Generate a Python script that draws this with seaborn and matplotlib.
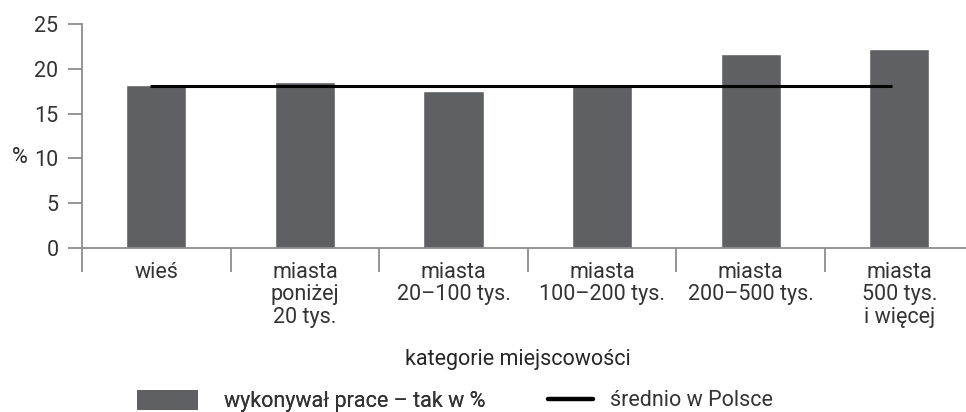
"""
Bar chart: share of people who did the work, by settlement category,
with the national average drawn as a horizontal line.
"""
import matplotlib
matplotlib.use("Agg")
import matplotlib.pyplot as plt
import pandas as pd
import seaborn as sns
from matplotlib.lines import Line2D
from matplotlib.patches import Patch

categories = [
    "wieś",
    "miasta\nponiżej\n20 tys.",
    "miasta\n20–100 tys.",
    "miasta\n100–200 tys.",
    "miasta\n200–500 tys.",
    "miasta\n500 tys.\ni więcej",
]
values = [18.2, 18.5, 17.5, 18.2, 21.7, 22.2]
average_poland = 18.1
y_ticks = [0, 5, 10, 15, 20, 25]

BAR_COLOR = "#5f6064"
AXIS_COLOR = "#8c8c8c"
TEXT_COLOR = "#333333"
FS = 15.5

sns.set_style("white")
plt.rcParams["font.family"] = ["Roboto", "DejaVu Sans"]
plt.rcParams["font.size"] = FS
plt.rcParams["text.color"] = TEXT_COLOR

df = pd.DataFrame({"kategoria": categories, "wartosc": values})

fig = plt.figure(figsize=(9.66, 4.12), dpi=100)
ax = fig.add_axes([82 / 966, 164 / 412, 0.923, 224 / 412])

sns.barplot(data=df, x="kategoria", y="wartosc", color=BAR_COLOR,
            width=0.405, saturation=1, ax=ax)

# average line, from first to last category
ax.plot([-0.04, len(categories) - 1.05], [average_poland, average_poland],
        color="black", lw=2.2, solid_capstyle="butt")

ax.set_xlim(-0.5, len(categories) - 0.5)
ax.set_ylim(0, 25)
ax.set_yticks(y_ticks)

for side in ["top", "right"]:
    ax.spines[side].set_visible(False)
for side in ["left", "bottom"]:
    ax.spines[side].set_color(AXIS_COLOR)
    ax.spines[side].set_linewidth(1.3)

# boundary ticks between categories, labels centred under bars
n = len(categories)
ax.set_xticks([i - 0.5 for i in range(n)])
ax.set_xticklabels([""] * n)
ax.set_xticks(list(range(n)), minor=True)
ax.set_xticklabels(categories, minor=True, color=TEXT_COLOR, fontsize=FS,
                   linespacing=1.1)
ax.tick_params(axis="x", which="major", bottom=True, length=17, width=1.3,
               color=AXIS_COLOR, direction="out")
ax.tick_params(axis="x", which="minor", bottom=True, length=0, pad=10)
ax.tick_params(axis="y", left=True, length=10, width=1.3, color=AXIS_COLOR,
               labelcolor=TEXT_COLOR, labelsize=FS, pad=7)

ax.set_ylabel("%", rotation=0, fontsize=FS, va="center", ha="center")
ax.yaxis.set_label_coords(-0.0695, 0.406)
ax.set_xlabel("kategorie miejscowości", fontsize=FS, va="center")
ax.xaxis.set_label_coords((518 - 82) / 891.6, -(360 - 248) / 224)

leg1 = fig.legend(handles=[Patch(facecolor=BAR_COLOR, edgecolor="none")],
                  labels=["wykonywał prace – tak w %"],
                  loc="center left", bbox_to_anchor=(137 / 966, 11 / 412),
                  frameon=False, borderpad=0, borderaxespad=0,
                  handlelength=2.85, handleheight=1.1, handletextpad=1.2,
                  fontsize=FS)
fig.add_artist(leg1)
fig.legend(handles=[Line2D([], [], color="black", lw=3.2)],
           labels=["średnio w Polsce"],
           loc="center left", bbox_to_anchor=(548 / 966, 11 / 412),
           frameon=False, borderpad=0, borderaxespad=0,
           handlelength=2.1, handletextpad=0.8, fontsize=FS)

fig.savefig("out.png", dpi=100)
